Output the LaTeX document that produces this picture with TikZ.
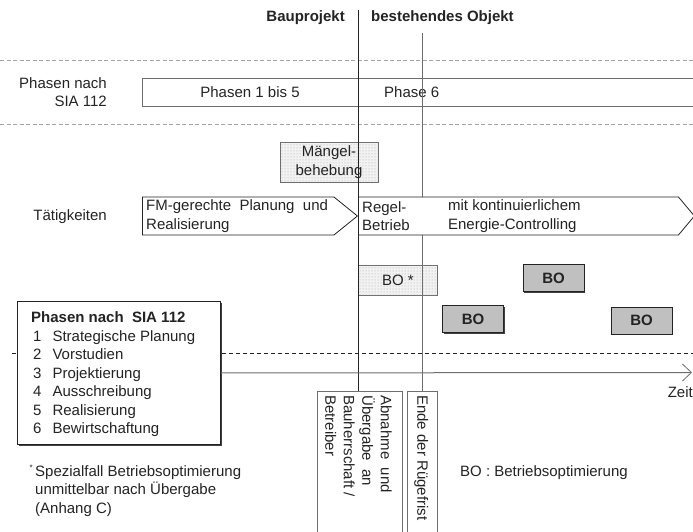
\documentclass[tikz,border=0pt]{standalone}
\usepackage{fontspec}
\setmainfont{Liberation Sans}
\usetikzlibrary{arrows.meta,positioning,shapes.symbols,patterns,shadows}
\definecolor{sialine} {RGB}{ 35, 35, 35}
\definecolor{siagray} {RGB}{110,110,110}
\definecolor{siadash} {RGB}{165,165,165}
\definecolor{bofill}  {RGB}{192,192,192}
\definecolor{dotfill} {RGB}{242,242,242}
\newcommand{\siafont}{\fontsize{15}{18.5}\selectfont}
\tikzset{
  txt/.style={font=\siafont,text=sialine,inner sep=0pt},
  hdr/.style={txt,font=\siafont\bfseries},
  sepline/.style={draw=siadash,dash pattern=on 4pt off 2.5pt,line width=0.8pt},
  axdash/.style={draw=sialine,dash pattern=on 4pt off 3pt,line width=1pt},
  timeax/.style={draw=siagray,line width=1pt,
                 -{Straight Barb[length=9pt,width=17pt,line width=0.8pt]}},
  mainline/.style={draw=sialine,line width=1pt},
  rugline/.style={draw=siagray,line width=0.9pt},
  boxline/.style={draw=siagray,line width=0.9pt},
  actarrow/.style={shape=signal,signal to=east,draw=sialine,fill=white,
                   line width=0.8pt,inner sep=0pt,minimum height=38pt},
  dotbox/.style={txt,draw=siagray,fill=dotfill,line width=0.8pt,align=center,
                 postaction={pattern=dots,pattern color=gray!70}},
  bobox/.style={draw=sialine,fill=bofill,line width=0.8pt,
                minimum width=61pt,minimum height=27pt,
                font=\siafont\bfseries,text=sialine,
                drop shadow={shadow xshift=1pt,shadow yshift=-1pt,
                fill=black!75,opacity=1}},
  legbox/.style={draw=sialine,fill=white,line width=0.9pt,inner sep=0pt,
                 drop shadow={shadow xshift=1.2pt,shadow yshift=-1.2pt,
                 fill=black!75,opacity=1}},
}

\begin{document}
\begin{tikzpicture}[x=1pt,y=-1pt]
  \useasboundingbox (0,0) rectangle (693,532);

  % headings and separators
  \node[hdr,anchor=east] (bau)  at (345,18) {Bauprojekt};
  \node[hdr,anchor=west] (best) at (371,18) {bestehendes Objekt};
  \coordinate (vtop) at (358,10);
  \coordinate (rtop) at (422,33);
  \draw[sepline] (0,60) -- (693,60);
  \draw[sepline] (0,124) -- (693,124);

  % phases after SIA 112
  \node[inner sep=0pt,minimum width=552pt,minimum height=28pt,
        anchor=north west] (phbox) at (142,78) {};
  \draw[boxline] (phbox.north east) -- (phbox.north west)
                 -- (phbox.south west) -- (phbox.south east);
  \node[txt,align=right,anchor=east] (phlbl) at (107,92) {Phasen nach\\SIA 112};
  \node[txt] (ph15) at (250,92) {Phasen 1 bis 5};
  \node[txt,anchor=west] (ph6) at (384,92) {Phase 6};

  % activities
  \node[dotbox,minimum width=98pt,minimum height=40pt] (mangel) at (329,162)
       {M\"angel-\\behebung};
  \node[dotbox,minimum width=79pt,minimum height=30pt,anchor=north west]
       (bostar) at (358,265) {BO *};

  \node[bobox] (bo1) at (553.5,278) {BO};
  \node[bobox] (bo2) at (473,319) {BO};
  \node[bobox] (bo3) at (641.5,320.5) {BO};

  % handover boxes
  \node[inner sep=0pt,minimum width=85pt,minimum height=141pt,
        anchor=north west] (abn) at (317,391) {};
  \node[inner sep=0pt,minimum width=30pt,minimum height=141pt,
        anchor=north west] (rueg) at (407,391) {};
  \draw[boxline] (abn.south west) -- (abn.north west)
                 -- (abn.north east) -- (abn.south east);
  \draw[boxline] (rueg.south west) -- (rueg.north west)
                 -- (rueg.north east) -- (rueg.south east);

  \draw[rugline]  (rtop) -- (rtop |- rueg.north);
  \draw[mainline] (vtop) -- (vtop |- abn.north);

  \node[txt,anchor=east] (taet) at (107,217) {T\"atigkeiten};
  \node[actarrow,signal pointer angle=78,minimum width=215pt,anchor=west]
       (act1) at (142,216) {};
  \node[actarrow,signal pointer angle=100,minimum width=336pt,anchor=west]
       (act2) at (358,216) {};
  \node[txt,align=left,anchor=west] (act1txt) at ([xshift=4pt]act1.west)
       {FM-gerechte\ \ Planung\ \ und\\Realisierung};
  \node[txt,align=left,anchor=west] (regel) at ([xshift=4pt]act2.west)
       {Regel-\\Betrieb};
  \node[txt,align=left,right=38pt of regel] (energ)
       {mit kontinuierlichem\\Energie-Controlling};

  \node[txt,rotate=-90,align=left,anchor=north west] (abntxt) at (392,395)
       {Abnahme\ \ und\\\"Ubergabe\ \ an\\Bauherrschaft /\\Betreiber};
  \node[txt,rotate=-90,anchor=north west] (ruegtxt) at (428.5,395)
       {Ende der R\"ugefrist};

  % time axis and legend
  \draw[axdash] (12,353) -- (693,353);
  \node[legbox,anchor=north west,minimum width=203pt,minimum height=143pt]
       (leg) at (17,301) {};
  \node[txt,anchor=north west] (legtxt) at ([xshift=14pt,yshift=-8.5pt]leg.north west)
       {\begin{tabular}{@{\hspace{2pt}}l@{\hspace{11pt}}l@{}}
        \multicolumn{2}{@{}l@{}}{\textbf{Phasen nach\ \ SIA 112}}\\
        1 & Strategische Planung\\
        2 & Vorstudien\\
        3 & Projektierung\\
        4 & Ausschreibung\\
        5 & Realisierung\\
        6 & Bewirtschaftung
        \end{tabular}};
  \coordinate (tend) at (692,372.5);
  \draw[timeax] (leg.east) -- (tend);
  \node[txt,anchor=east] (zeit) at (693,392) {Zeit};

  % footnotes
  \node[txt,align=left,anchor=west] (fn) at (35,491)
       {Spezialfall Betriebsoptimierung\\unmittelbar nach \"Ubergabe\\(Anhang C)};
  \node[txt,font=\footnotesize,anchor=north east] (fnstar)
       at ([xshift=-2pt,yshift=1pt]fn.north west) {*};
  \node[txt,anchor=west] (boleg) at (460,473) {BO : Betriebsoptimierung};
\end{tikzpicture}
\end{document}
